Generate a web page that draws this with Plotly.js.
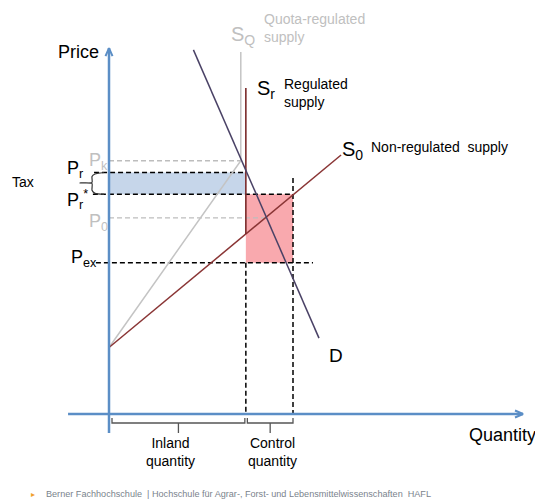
<!DOCTYPE html>
<html>
<head>
<meta charset="utf-8">
<script src="https://cdn.plot.ly/plotly-3.0.1.min.js"></script>
<style>html,body{margin:0;padding:0;background:#fff;}#chart{width:535px;height:500px;}</style>
</head>
<body>
<div id="chart"></div>
<script>
// ---- data (price / quantity units of the diagram) ----
const priceNames  = ["P_k", "P_r", "P_r*", "P_0", "P_ex"];
const priceValues = [11.01, 10.50, 9.55, 8.53, 6.58];
const quantityNames  = ["Q_quota", "Q_r", "Q_control"];
const quantityValues = [5.73, 5.95, 8.00];
const demandQ = [3.67, 9.13];
const demandP = [15.83, 3.30];
const s0Q = [0, 10.09];
const s0P = [2.89, 11.26];
const sqQ = [0, 5.73, 5.73];
const sqP = [2.89, 11.01, 15.74];
const srQ = [5.95, 5.95];
const srP = [14.17, 7.83];
const axisQ = [-1.78, 18.0];
const axisP = [-0.83, 15.91];
const controlTopP = 10.26;

const [Pk, Pr, PrS, P0, Pex] = priceValues;
const [Qq, Qr, Qc] = quantityValues;

// intersection of demand with S0 (equilibrium quantity)
const dSlope = (demandP[1]-demandP[0])/(demandQ[1]-demandQ[0]);
const sSlope = (s0P[1]-s0P[0])/(s0Q[1]-s0Q[0]);
const Q0 = (s0P[0] - demandP[0] + dSlope*demandQ[0]) / (dSlope - sSlope);

const K = 23, OX = 109, OY = 414, W = 535, H = 500;
const BLUE = '#5b8ec6', BLACK = '#000', GRAY = '#c0c0c0';
const dashB = '5px,3px';

function line(x, y, color, width, dash) {
  return {type:'scatter', mode:'lines', x:x, y:y, hoverinfo:'skip',
          line:{color:color, width:width, dash:dash||'solid'}};
}
function rect(x0, x1, y0, y1, fill) {
  return {type:'scatter', mode:'lines', x:[x0,x1,x1,x0,x0], y:[y0,y0,y1,y1,y0],
          fill:'toself', fillcolor:fill, line:{width:0}, hoverinfo:'skip'};
}
const u = 1/K; // one pixel in data units

const traces = [
  rect(0, Qr, PrS, Pr, '#c6d6ea'),
  rect(Qr, Qc, Pex, PrS, '#f9a9ae'),
  // gray dashed guides
  line([0, Qq], [Pk, Pk], '#bdbdbd', 1.3, dashB),
  line([0, Q0], [P0, P0], '#bdbdbd', 1.3, dashB),
  // black dashed guides
  line([-0.65, Qr], [Pr, Pr], BLACK, 1.5, dashB),
  line([-0.7, Qc], [PrS, PrS], BLACK, 1.5, dashB),
  line([-0.57, 8.87], [Pex, Pex], BLACK, 1.5, dashB),
  line([Qr, Qr], [Pex, 0], BLACK, 1.5, dashB),
  line([Qc, Qc], [controlTopP, 0], BLACK, 1.5, dashB),
  // curves
  line(sqQ, sqP, '#c4c4c4', 1.5),
  line(s0Q, s0P, '#8a3535', 1.5),
  line(srQ, srP, '#7a2a2a', 1.6),
  line(demandQ, demandP, '#4a4266', 1.5),
  // axes
  line([0, 0], axisP, BLUE, 2.5),
  line(axisQ, [0, 0], BLUE, 2.5),
  line([-3.5*u, 0, 3.5*u], [axisP[1]-8*u, axisP[1], axisP[1]-8*u], BLUE, 2),
  line([axisQ[1]-8*u, axisQ[1], axisQ[1]-8*u], [3.5*u, 0, -3.5*u], BLUE, 2)
];

// bottom braces
function hBrace(a, b, color) {
  const top = -4*u, mid = -9*u, bot = -19*u, c = (a+b)/2;
  return line([a, a, c, c, c, b, b], [top, mid, mid, bot, mid, mid, top], color, 1.3);
}
traces.push(hBrace(3*u, Qr - 1*u, '#555'));
traces.push(hBrace(Qr + 1.5*u, Qc, '#555'));
// tax brace between P_r and P_r*
traces.push({type:'scatter', mode:'lines', hoverinfo:'skip',
  x:[-5*u, -14*u, -17*u, -17*u, -29*u, -17*u, -17*u, -14*u, -5*u],
  y:[Pr, Pr-1.5*u, Pr-4*u, (Pr+PrS)/2+1*u, (Pr+PrS)/2+0.5*u, (Pr+PrS)/2, PrS+4*u, PrS+1*u, PrS],
  line:{color:'#333', width:1.2, shape:'spline', smoothing:0.6}});

function lab(px, py, text, size, color, xanchor, extra) {
  return Object.assign({xref:'paper', yref:'paper', x:px/W, y:1-py/H, text:text,
    showarrow:false, xanchor:xanchor||'left', yanchor:'middle', align:xanchor==='center'?'center':'left',
    font:{family:'Arial, Liberation Sans, sans-serif', size:size, color:color||BLACK}}, extra||{});
}

const annotations = [
  lab(56, 52, 'Price', 18),
  lab(467, 435, 'Quantity', 18),
  lab(229, 36, 'S<sub>Q</sub>', 20, GRAY),
  lab(262, 28, 'Quota-regulated<br>supply', 14, GRAY),
  lab(255, 90, 'S<sub>r</sub>', 20),
  lab(282, 93, 'Regulated<br>supply', 14),
  lab(340, 150, 'S<sub>0</sub>', 20),
  lab(369, 147, 'Non-regulated\u00a0 supply', 14),
  lab(327, 355, 'D', 19),
  lab(10, 182, 'Tax', 14),
  lab(87, 161, 'P<sub>k</sub>', 18, GRAY),
  lab(65, 169, 'P<sub>r</sub>', 18),
  lab(65, 199, 'P<sub>r</sub><sup>*</sup>', 18),
  lab(87, 223, 'P<sub>0</sub>', 18, GRAY),
  lab(69, 258, 'P<sub>ex</sub>', 18),
  lab(170, 452, 'Inland<br>quantity', 14, BLACK, 'center'),
  lab(272, 452, 'Control<br>quantity', 14, BLACK, 'center'),
  lab(29, 494, '\u25B8', 8, '#f0a030'),
  lab(44, 494, 'Berner Fachhochschule\u00a0 | Hochschule für Agrar-, Forst- und Lebensmittelwissenschaften\u00a0 HAFL', 9.1, '#7a838c')
];

const layout = {
  width: W, height: H, margin:{l:0, r:0, t:0, b:0, pad:0},
  paper_bgcolor:'#fff', plot_bgcolor:'#fff', showlegend:false,
  xaxis:{range:[-OX/K, (W-OX)/K], visible:false, fixedrange:true},
  yaxis:{range:[(OY-H)/K, OY/K], visible:false, fixedrange:true},
  annotations: annotations
};
Plotly.newPlot('chart', traces, layout, {staticPlot:true, displayModeBar:false});
</script>
</body>
</html>
